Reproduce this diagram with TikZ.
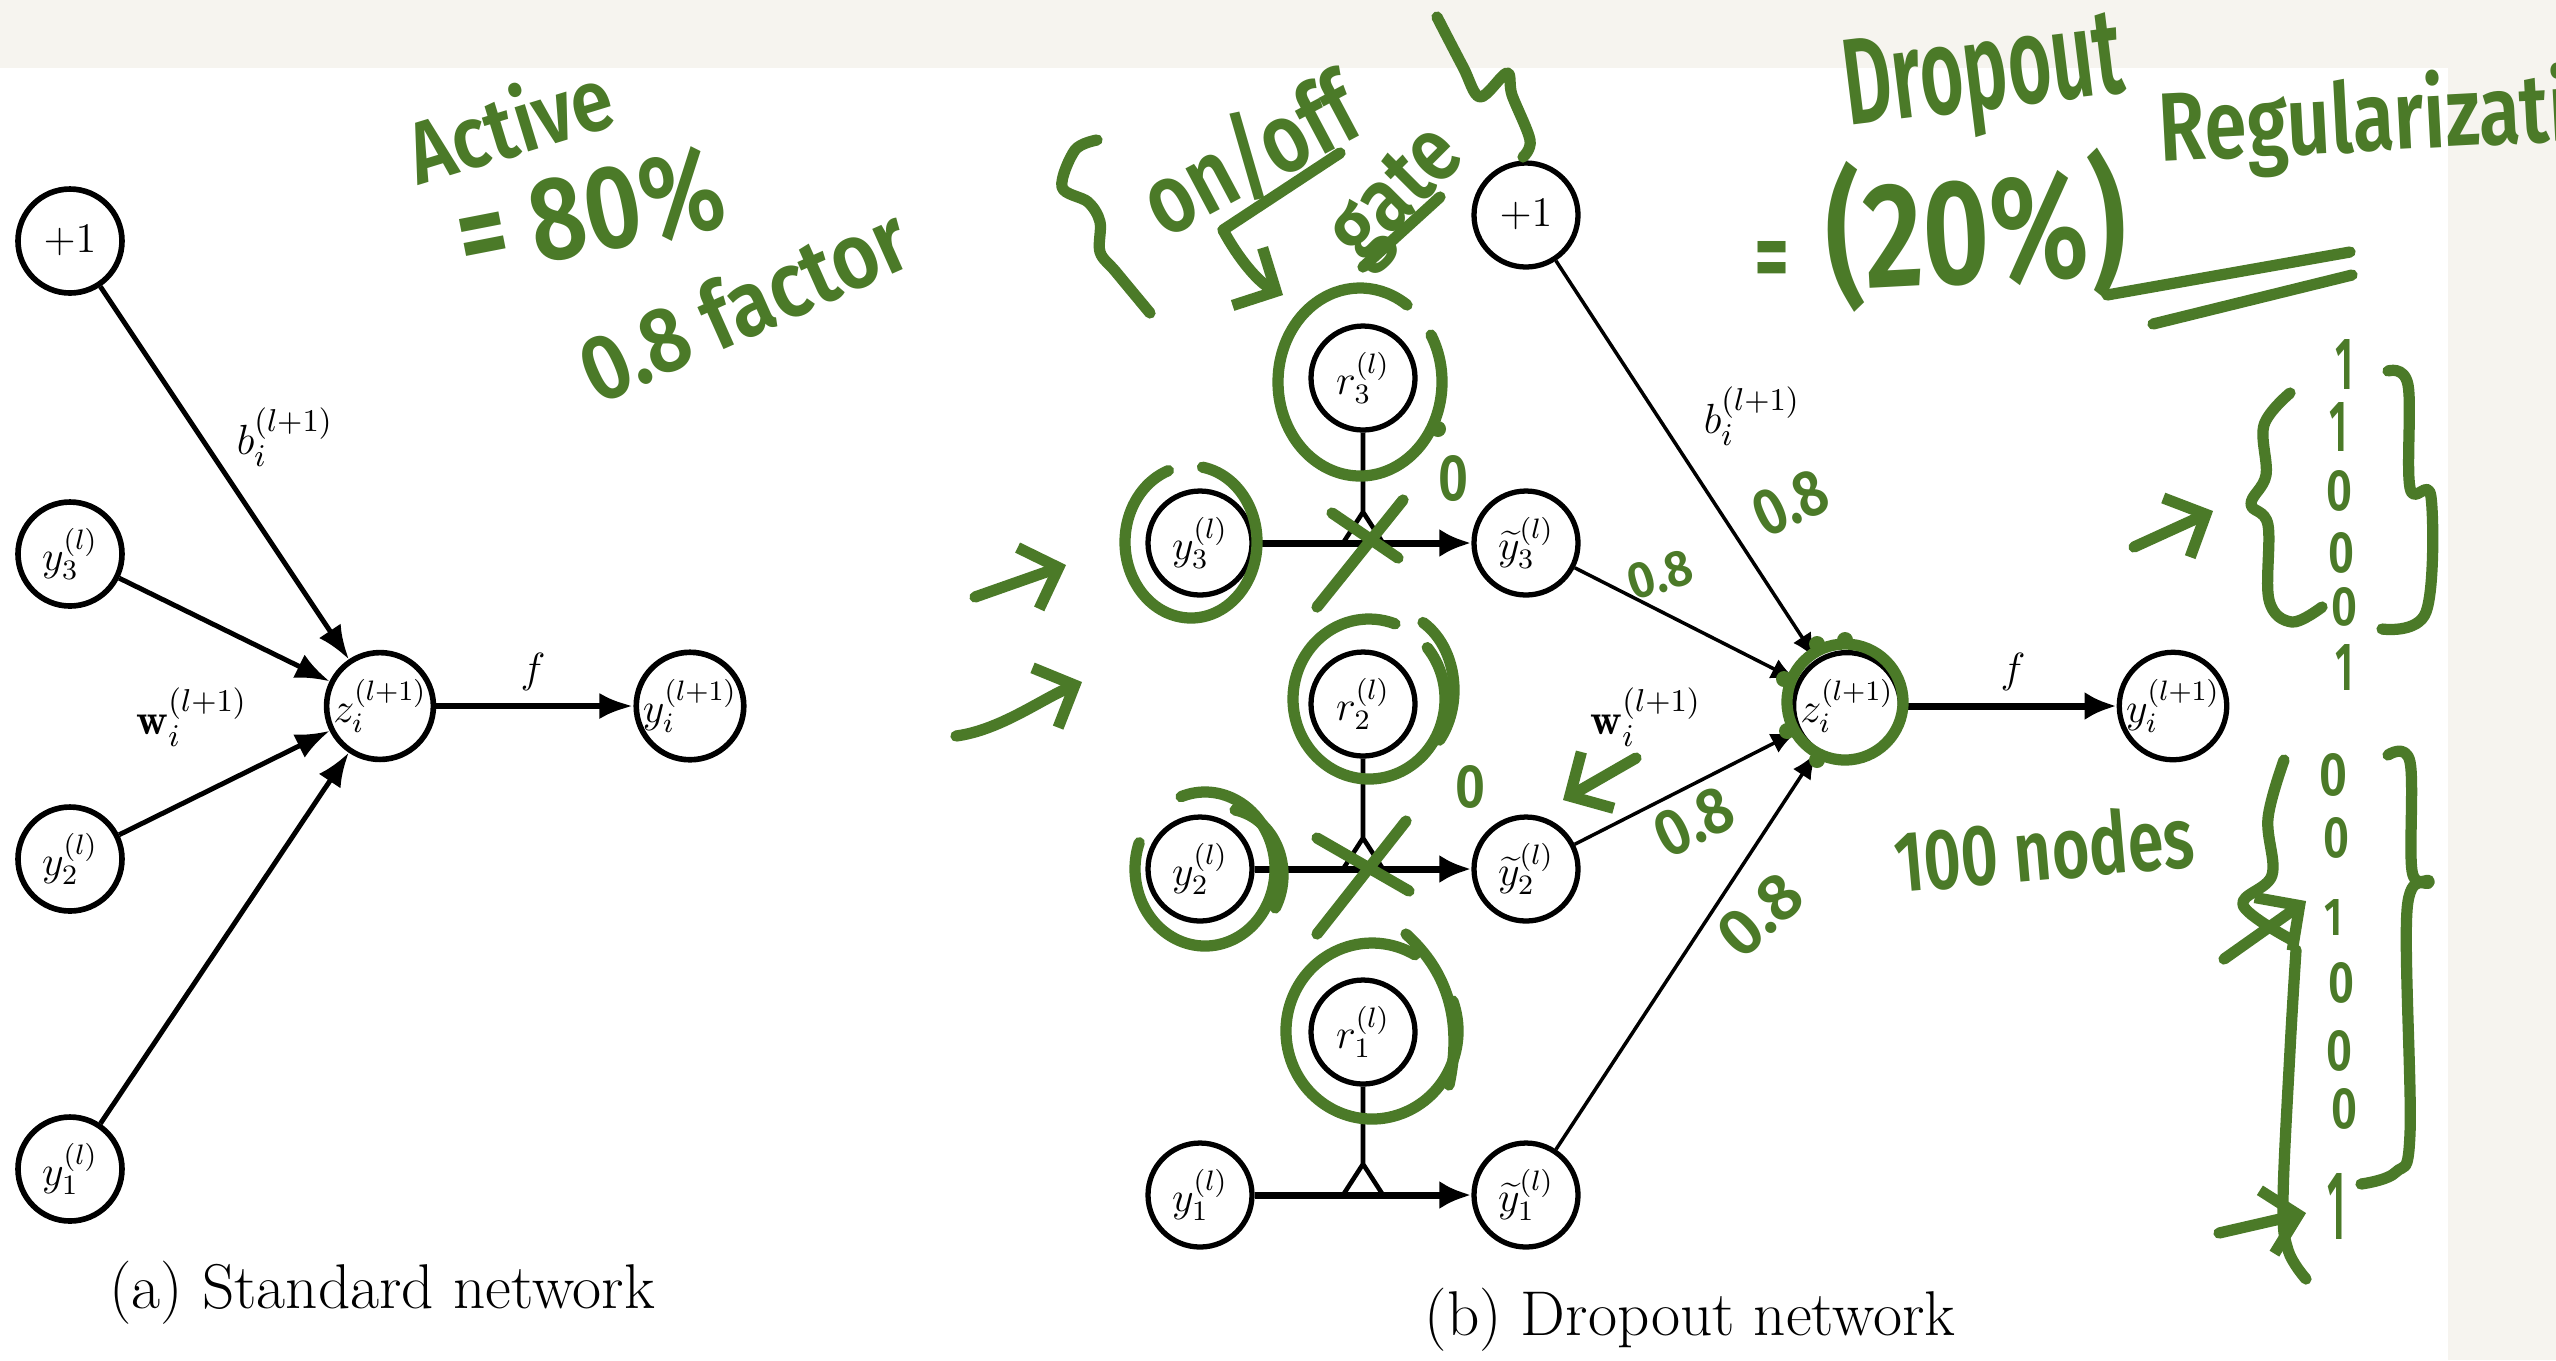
\documentclass[tikz,border=0pt]{standalone}
\usepackage{fontspec}
\usepackage{graphicx}
\usetikzlibrary{arrows.meta}
\newfontfamily\hand{Fira Sans SemiBold}
\definecolor{inkgreen}{RGB}{75,122,40}
\definecolor{paper}{RGB}{246,244,239}
\newcommand{\hw}[3]{\resizebox{#1}{#2}{\hand #3}}
\begin{document}
\begin{tikzpicture}[x=0.1mm, y=-0.1mm,
  nA/.style={circle, draw, line width=1.6pt, minimum size=10.4mm, inner sep=0pt, font=\fontsize{12}{14}\selectfont},
  nB/.style={nA, line width=1.5pt},
  eA/.style={line width=1.4pt, -{Latex[length=3.4mm,width=2.6mm]}},
  eB/.style={line width=1pt, -{Latex[length=2.6mm,width=2.1mm]}},
  eH/.style={line width=2pt, -{Latex[length=3.2mm,width=2.8mm]}},
  gateline/.style={line width=1.3pt, line join=miter},
  lbl/.style={font=\fontsize{12.5}{14}\selectfont, inner sep=0pt},
  captxt/.style={font=\fontsize{18}{21}\selectfont, inner sep=0pt},
  ink/.style={draw=inkgreen, line width=3.2pt, line cap=round, line join=round},
  inkarrow/.style={ink, -{Straight Barb[length=3.2mm,width=6.5mm]}},
  hw/.style={text=inkgreen, inner sep=0pt},
  inkdot/.style={fill=inkgreen, circle, inner sep=0pt, minimum size=1.6mm}
]
\useasboundingbox (0,0) rectangle (2556,1360);
\fill[paper] (0,0) rectangle (2556,1360);
\fill[white] (0,68) rectangle (2448,1360);

% ---------- (a) standard network ----------
\node[nA] (ap) at (70,241) {$+1$};
\node[nA] (ay3) at (70,554) {$y_3^{(l)}$};
\node[nA] (ay2) at (70,859) {$y_2^{(l)}$};
\node[nA] (ay1) at (70,1169) {$y_1^{(l)}$};
\node[nA] (az) at (380,706) {$z_i^{(l+1)}$};
\node[nA] (ayo) at (690,706) {$y_i^{(l+1)}$};
\draw[eA] (ap) -- (az);
\draw[eA] (ay3) -- (az);
\draw[eA] (ay2) -- (az);
\draw[eA] (ay1) -- (az);
\draw[eA, line width=1.8pt] (az) -- (ayo);
\node[lbl] (ab) at (285,437) {$b_i^{(l+1)}$};
\node[lbl] (aw) at (192,717) {$\mathbf{w}_i^{(l+1)}$};
\node[lbl] (af) at (533,672) {$f$};
\node[captxt] (capa) at (382,1293) {(a) Standard network};

% ---------- (b) dropout network ----------
\node[nB] (bp) at (1526,215) {$+1$};
\node[nB] (r3) at (1363,378) {$r_3^{(l)}$};
\node[nB] (r2) at (1363,704) {$r_2^{(l)}$};
\node[nB] (r1) at (1363,1032) {$r_1^{(l)}$};
\node[nB] (b3) at (1200,543) {$y_3^{(l)}$};
\node[nB] (b2) at (1200,869) {$y_2^{(l)}$};
\node[nB] (b1) at (1200,1195) {$y_1^{(l)}$};
\node[nB] (t3) at (1526,543) {$\widetilde{y}_3^{(l)}$};
\node[nB] (t2) at (1526,869) {$\widetilde{y}_2^{(l)}$};
\node[nB] (t1) at (1526,1195) {$\widetilde{y}_1^{(l)}$};
\node[nB] (bz) at (1847,706) {$z_i^{(l+1)}$};
\node[nB] (byo) at (2173,706) {$y_i^{(l+1)}$};

\draw[eH] (b3) -- (t3);
\draw[eH] (b2) -- (t2);
\draw[eH] (b1) -- (t1);
\coordinate (k3) at (1363,512);
\coordinate (k2) at (1363,838);
\coordinate (k1) at (1363,1164);
\draw[gateline] (r3) -- (k3) -- ++(-20,31) (k3) -- ++(20,31);
\draw[gateline] (r2) -- (k2) -- ++(-20,31) (k2) -- ++(20,31);
\draw[gateline] (r1) -- (k1) -- ++(-20,31) (k1) -- ++(20,31);

\draw[eB] (bp) -- (bz);
\draw[eB] (t3) -- (bz);
\draw[eB] (t2) -- (bz);
\draw[eB] (t1) -- (bz);
\draw[eH] (bz) -- (byo);
\node[lbl] (bb) at (1752,416) {$b_i^{(l+1)}$};
\node[lbl] (bw) at (1646,717) {$\mathbf{w}_i^{(l+1)}$};
\node[lbl] (bf) at (2013,672) {$f$};
\node[captxt] (capb) at (1690,1320) {(b) Dropout network};

% ---------- handwritten annotations ----------
\node[hw, rotate=17] (tActive) at (509,122) {\hw{21mm}{7mm}{Active}};
\node[hw, rotate=11] (t80) at (590,212) {\hw{27mm}{8.5mm}{= 80\%}};
\node[hw, rotate=24] (tfac) at (743,303) {\hw{35mm}{7mm}{0.8 factor}};

\node[hw, rotate=28] (tonoff) at (1250,155) {\hw{23mm}{8mm}{on/off}};
\node[hw, rotate=45] (tgate) at (1400,198) {\hw{15mm}{6mm}{gate}};
\draw[ink] plot[smooth, tension=0.55] coordinates {(1097,140) (1075,150) (1062,187) (1088,202) (1100,222) (1100,252) (1116,272) (1150,313)};
\draw[ink] plot[smooth, tension=0.55] coordinates {(1437,17) (1463,67) (1480,97) (1507,73) (1512,95) (1530,140) (1523,157)};
\draw[ink] (1223,230) -- (1340,153);
\draw[inkarrow] (1223,230) .. controls (1238,258) and (1258,282) .. (1283,295);
\draw[ink] (1363,267) -- (1440,197);

\node[hw, rotate=7] (tdrop) at (1984,80) {\hw{28mm}{8.5mm}{Dropout}};
\node[hw] (teq) at (1772,266) {\hw{3.5mm}{5mm}{=}};
\node[hw, rotate=3] (tpct) at (1976,230) {\hw{30mm}{12.8mm}{(20\%)}};
\node[hw, rotate=3, anchor=base west] (treg) at (2160,162) {\hw{50mm}{7.8mm}{Regularization}};
\draw[ink] (2107,295) -- (2350,252);
\draw[ink] (2153,324) -- (2352,275);

% rings
\draw[ink] (1360,382) ++(330:82 and 94) arc[start angle=330, end angle=665, x radius=82, y radius=94];
\draw[ink] (1191,542) ++(280:66 and 76) arc[start angle=280, end angle=610, x radius=66, y radius=76];
\draw[ink] (1369,699) ++(320:76 and 80) arc[start angle=320, end angle=650, x radius=76, y radius=80];
\draw[ink] (1392,690) ++(300:62 and 78) arc[start angle=300, end angle=400, x radius=62, y radius=78];
\draw[ink] (1205,869) ++(250:70 and 77) arc[start angle=250, end angle=560, x radius=70, y radius=77];
\draw[ink] (1225,875) ++(280:58 and 66) arc[start angle=280, end angle=390, x radius=58, y radius=66];
\draw[ink] (1372,1031) ++(340:86 and 88) arc[start angle=340, end angle=660, x radius=86, y radius=88];
\draw[ink] (1406,934) .. controls (1440,965) and (1465,1010) .. (1449,1085);
\draw[ink] (1845,702) circle[radius=58];
\node[inkdot] (d0) at (1438,429) {};
\node[inkdot] (d1) at (1817,644) {};
\node[inkdot] (d2) at (1845,640) {};
\node[inkdot] (d3) at (1784,679) {};
\node[inkdot] (d4) at (1787,731) {};
\node[inkdot] (d5) at (1817,760) {};

% crosses
\draw[ink] (1317,607) -- (1403,500);
\draw[ink] (1332,513) -- (1398,558);
\draw[ink] (1317,934) -- (1406,821);
\draw[ink] (1317,838) -- (1409,891);

% zeros and 0.8s
\node[hw] (z1) at (1453,478) {\hw{3mm}{4.5mm}{0}};
\node[hw] (z2) at (1470,787) {\hw{3mm}{4.2mm}{0}};
\node[hw, rotate=25] (e1) at (1790,503) {\hw{7.5mm}{4.5mm}{0.8}};
\node[hw, rotate=17] (e2) at (1660,575) {\hw{6.5mm}{3.5mm}{0.8}};
\node[hw, rotate=26] (e3) at (1694,822) {\hw{8mm}{4.5mm}{0.8}};
\node[hw, rotate=42] (e4) at (1760,915) {\hw{9mm}{4.5mm}{0.8}};
\node[hw, rotate=5] (tnodes) at (2044,848) {\hw{30mm}{6.5mm}{100 nodes}};

% arrows
\draw[inkarrow] (975,597) -- (1066,565);
\draw[inkarrow] (956,736) .. controls (1000,730) and (1040,700) .. (1082,682);
\draw[inkarrow] (1636,758) -- (1563,800);
\draw[inkarrow] (2134,547) -- (2213,511);
\draw[inkarrow] (2224,959) -- (2306,901);
\draw[inkarrow] (2219,1233) -- (2306,1213);

% vector 1
\node[hw] (va1) at (2344,364) {\hw{1.8mm}{5mm}{1}};
\node[hw] (va2) at (2338,427) {\hw{1.8mm}{4.9mm}{1}};
\node[hw] (va3) at (2339,491) {\hw{2.6mm}{4mm}{0}};
\node[hw] (va4) at (2341,553) {\hw{2.6mm}{4mm}{0}};
\node[hw] (va5) at (2344,607) {\hw{2.6mm}{3.8mm}{0}};
\node[hw] (va6) at (2344,667) {\hw{1.8mm}{4.6mm}{1}};
\draw[ink] plot[smooth, tension=0.6] coordinates {(2290,393) (2264,425) (2266,475) (2251,504) (2268,525) (2269,600) (2292,622) (2322,607)};
\draw[ink] plot[smooth, tension=0.6] coordinates {(2388,371) (2408,385) (2410,488) (2431,497) (2426,612) (2382,629)};

% vector 2
\node[hw] (vb1) at (2333,775) {\hw{2.8mm}{4.2mm}{0}};
\node[hw] (vb2) at (2336,838) {\hw{2.6mm}{4mm}{0}};
\node[hw] (vb3) at (2333,917) {\hw{1.8mm}{3.6mm}{1}};
\node[hw] (vb4) at (2341,983) {\hw{2.6mm}{4mm}{0}};
\node[hw] (vb5) at (2339,1051) {\hw{2.6mm}{4mm}{0}};
\node[hw] (vb6) at (2344,1109) {\hw{2.6mm}{4mm}{0}};
\node[hw] (vb7) at (2336,1206) {\hw{1.8mm}{6.6mm}{1}};
\draw[ink] plot[smooth, tension=0.6] coordinates {(2284,760) (2268,818) (2272,875) (2243,905) (2292,940)};
\draw[ink] plot[smooth, tension=0.6] coordinates {(2296,950) (2290,1050) (2283,1200) (2288,1250) (2306,1279)};
\draw[ink] plot[smooth, tension=0.6] coordinates {(2388,755) (2410,762) (2412,871) (2429,882) (2407,910) (2410,1133) (2396,1172) (2361,1184)};
\end{tikzpicture}
\end{document}
